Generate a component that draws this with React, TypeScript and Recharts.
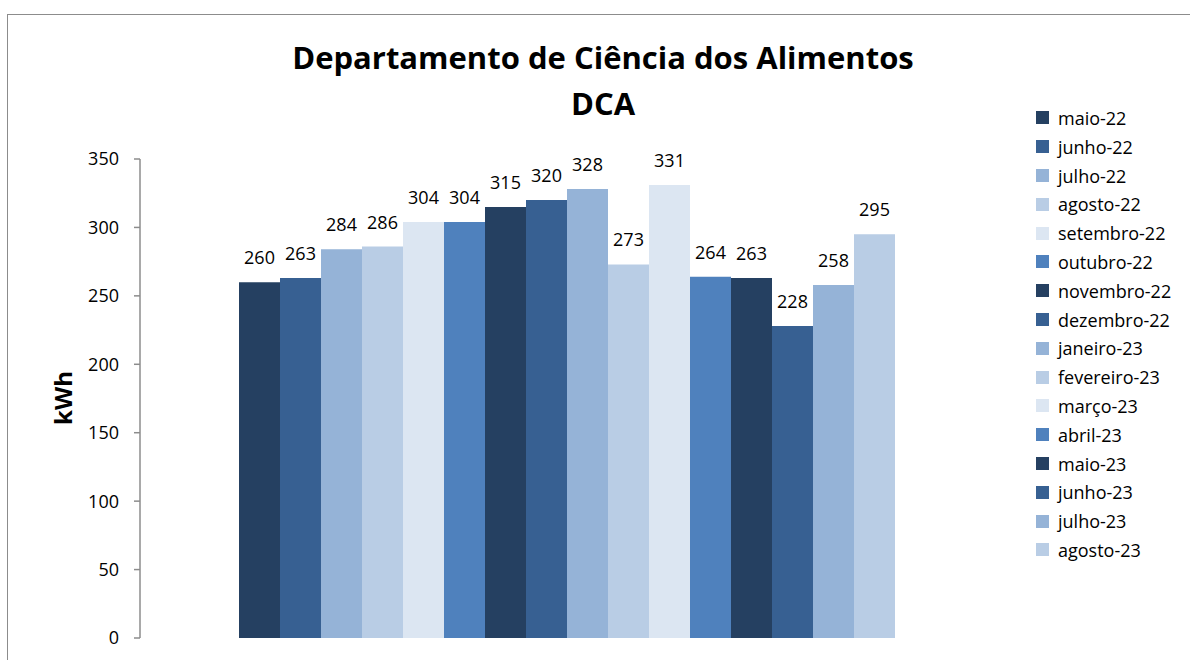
import { BarChart, Bar, YAxis, XAxis, LabelList } from "recharts";

const months = [
  "maio-22", "junho-22", "julho-22", "agosto-22", "setembro-22", "outubro-22",
  "novembro-22", "dezembro-22", "janeiro-23", "fevereiro-23", "março-23", "abril-23",
  "maio-23", "junho-23", "julho-23", "agosto-23",
];
const kwh = [260, 263, 284, 286, 304, 304, 315, 320, 328, 273, 331, 264, 263, 228, 258, 295];
const palette = ["#254061", "#376092", "#95b3d7", "#b9cde5", "#dce6f2", "#4f81bd"];
const yTicks = [0, 50, 100, 150, 200, 250, 300, 350];

const row: Record<string, string | number> = { name: "DCA" };
months.forEach((m, i) => (row[m] = kwh[i]));
const data = [row];

const font = "'Open Sans', sans-serif";

function ChartLegend() {
  return (
    <div
      style={{
        position: "absolute", left: 1036, top: 103.6,
        fontFamily: font, fontSize: 18, color: "#000",
      }}
    >
      {months.map((m, i) => (
        <div key={m} style={{ height: 28.8, display: "flex", alignItems: "center", whiteSpace: "nowrap" }}>
          <span
            style={{
              width: 13, height: 13, background: palette[i % palette.length],
              marginRight: 9, display: "inline-block",
            }}
          />
          <span>{m}</span>
        </div>
      ))}
    </div>
  );
}

export default function App() {
  return (
    <div style={{ position: "fixed", left: 0, top: 0, width: 1190, height: 660, overflow: "hidden", background: "#fff" }}>
      <div
        style={{
          position: "absolute", left: 7, top: 14, width: 1300, height: 800,
          border: "1.5px solid #8c8c8c", boxSizing: "border-box",
        }}
      />
      <div
        style={{
          position: "absolute", left: 0, width: 1206, top: 34, textAlign: "center",
          fontFamily: font, fontWeight: 700, fontSize: 31, lineHeight: "46px", color: "#000",
        }}
      >
        Departamento de Ciência dos Alimentos
        <br />
        DCA
      </div>
      <div style={{ position: "absolute", left: 62, top: 398, width: 0, height: 0 }}>
        <div
          style={{
            position: "absolute", transform: "translate(-50%, -50%) rotate(-90deg)",
            fontFamily: font, fontWeight: 700, fontSize: 24, color: "#000", whiteSpace: "nowrap",
          }}
        >
          kWh
        </div>
      </div>
      <BarChart
        width={1190}
        height={660}
        data={data}
        margin={{ top: 159, right: 196, bottom: 22, left: 80 }}
        barCategoryGap={99}
        barGap={0}
        style={{ position: "absolute", left: 0, top: 0 }}
      >
        <XAxis dataKey="name" hide />
        <YAxis
          width={60}
          domain={[0, 350]}
          ticks={yTicks}
          interval={0}
          axisLine={{ stroke: "#8c8c8c", strokeWidth: 1.5 }}
          tickLine={{ stroke: "#8c8c8c", strokeWidth: 1.5 }}
          tickSize={6}
          tickMargin={15}
          tick={{ fontFamily: font, fontSize: 18, fill: "#000" }}
        />
        {months.map((m, i) => (
          <Bar key={m} dataKey={m} fill={palette[i % palette.length]} isAnimationActive={false}>
            <LabelList
              dataKey={m}
              position="top"
              offset={18}
              style={{ fontFamily: font, fontSize: 18, fill: "#000" }}
            />
          </Bar>
        ))}
      </BarChart>
      <ChartLegend />
    </div>
  );
}
